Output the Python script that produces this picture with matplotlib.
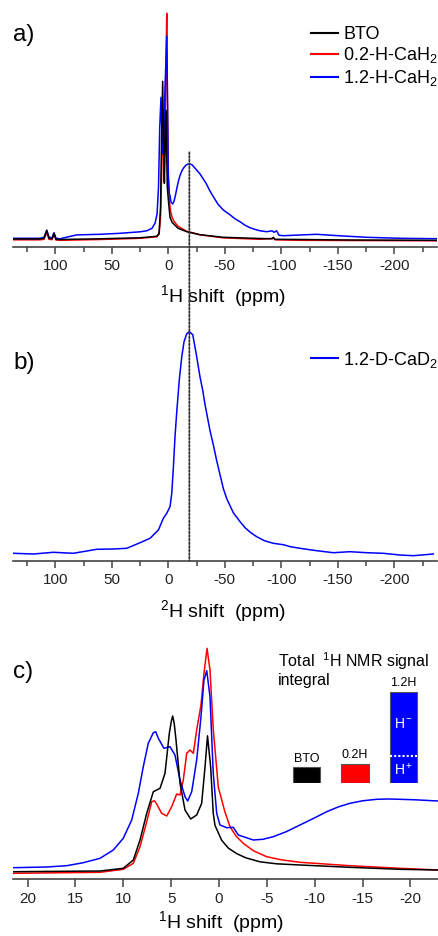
import matplotlib
matplotlib.use("Agg")
import matplotlib.pyplot as plt
from matplotlib.patches import ConnectionPatch
from matplotlib.ticker import MultipleLocator

plt.rcParams['font.family'] = ['Liberation Sans', 'DejaVu Sans']
plt.rcParams['mathtext.fontset'] = 'custom'
plt.rcParams['mathtext.rm'] = 'Liberation Sans'
plt.rcParams['mathtext.it'] = 'Liberation Sans:italic'
plt.rcParams['mathtext.bf'] = 'Liberation Sans:bold'
plt.rcParams['axes.unicode_minus'] = False

# ==============================
# Data (arbitrary intensity units)
# ==============================

# a) 1H MAS NMR, wide range
a_bto_ppm = [137.2, 113.5, 110, 107.6, 105.6, 102.9, 101.2, 99.4, 95.8, 60.4, 25, 10.3, 8.2, 6.9,
             6.0, 5.0, 4.1, 3.5, 2.9, 2.3, 1.6, 0.9, -0.2, -1.5, -3.3, -8.6, -16.3, -28, -48.4,
             -81, -91.8, -93, -94.4, -116.5, -160.8, -237.5]
a_bto_int = [8.3, 8.3, 9, 17, 9, 8.5, 14, 8, 7.8, 8.5, 9.5, 11, 14, 40,
             110, 166, 100, 64, 100, 137, 100, 60, 45, 30, 25, 19, 15.6, 12.6, 10,
             8.8, 8.5, 10, 8, 7.8, 7.3, 7]

a_02h_ppm = [137.2, 113.5, 110, 107.6, 105.6, 102.9, 101.2, 99.4, 95.8, 60.4, 25, 10.3, 8.2, 6.9,
             5.8, 4.6, 3.8, 3.0, 2.0, 1.4, 0.8, 0, -1, -2, -3.3, -5, -8.6, -16.3, -28, -48.4,
             -81, -93, -94.4, -116.5, -160.8, -237.5]
a_02h_int = [7.5, 7.5, 8, 15, 8, 7.7, 13, 7.3, 7, 7.8, 9, 10.5, 13, 30,
             80, 133, 67, 120, 190, 234, 150, 75, 45, 36, 30, 26, 21, 16, 12.5, 9.5,
             8, 9, 7.5, 7, 6.8, 6.5]

a_12h_ppm = [137.2, 113.5, 110, 107.6, 105.6, 102.9, 101.2, 99.4, 95.8, 90.5, 81, 60.4, 42.7, 25,
             19.1, 14.4, 11.8, 10, 8.7, 7.6, 6.5, 5.6, 5.1, 4.2, 2.9, 1.4, 0.7, 0, -0.9, -1.5,
             -2.4, -3.9, -5, -6.3, -7.7, -9, -10.4, -12, -13.9, -16, -18.3, -21, -24.5, -28,
             -30.5, -33.4, -36.5, -39.8, -44, -48.7, -54.6, -59, -63.5, -68, -72.3, -77, -81.2,
             -87.1, -91.8, -93.5, -95.8, -98, -101.8, -116.5, -131.3, -151.9, -175.6, -205,
             -237.5]
a_12h_int = [9, 9, 10, 17, 10, 9.5, 14.5, 9, 8.5, 10, 12.4, 13, 14, 15.5,
             16.5, 19, 24, 33, 60, 120, 150, 110, 94, 100, 160, 211, 140, 68, 53, 52,
             45, 43.4, 46, 52, 60, 66.5, 72, 76.5, 80, 82.5, 83.6, 82.5, 78, 73.4,
             69, 64, 57, 50.6, 43, 37.3, 32.5, 28.5, 25.5, 22, 19.6, 17.8, 16.5,
             15.6, 16.5, 15, 16.5, 12, 11.6, 12.3, 13, 11.5, 10, 9,
             8.6]

# b) 2H MAS NMR
b_12d_ppm = [137.2, 119.5, 101.8, 84.1, 63.4, 48.7, 36.8, 25, 16.2, 8.8, 4.4, 1.4, -1.5, -3.0,
             -4.4, -5.9, -7.4, -9.7, -11.9, -13.9, -16.3, -18.6, -21.6, -24.5, -28, -30.5,
             -32.5, -36.9, -39.8, -42.8, -48.7, -51.7, -54.6, -57.5, -63.5, -67.9, -73, -78.2,
             -85, -92.9, -101.8, -108, -116.5, -131.3, -146, -160.8, -175.6, -190.3, -205,
             -216.8, -234.5]
b_12d_int = [7.4, 6.7, 8.4, 7.4, 11.4, 11.7, 12.4, 18, 22.4, 30.7, 42.4, 47.4, 54, 67,
             92, 124, 148, 181, 204, 219, 227, 229, 226, 208, 184, 170,
             156, 130, 116, 100, 72, 62, 55, 48, 39, 33, 28, 24,
             20, 17.4, 16, 14, 12.4, 10, 8, 9, 8, 7.4, 5.7,
             5, 6.7]

# c) 1H MAS NMR, narrow range
c_bto_ppm = [21.49, 12.43, 10.0, 8.95, 8.25, 7.55, 6.86, 6.16, 5.64, 5.19, 4.98, 4.84, 4.68, 4.49,
             4.07, 3.55, 2.96, 2.33, 1.81, 1.46, 1.20, 0.87, 0.60, 0.42, -0.28, -1.0, -1.85, -2.8,
             -4.28, -6.0, -8.46, -13.68, -18.91, -22.88]
c_bto_int = [7.6, 8.3, 11, 19.3, 39.3, 66, 87.6, 91, 106, 146, 158, 163.3, 156, 139.3,
             96, 69.3, 60.3, 64.3, 76, 112.3, 143.5, 112.3, 66, 54, 39, 31, 25.7, 21.5,
             17.5, 15.5, 14.3, 12, 10, 9.3]

c_02h_ppm = [21.49, 12.43, 10.0, 8.95, 8.25, 7.55, 7.03, 6.75, 6.51, 5.99, 5.46, 4.94, 4.42, 4.07,
             3.73, 3.37, 3.03, 2.68, 2.33, 1.88, 1.57, 1.25, 0.94, 0.60, 0.07, -0.10, -0.6,
             -1.15, -1.8, -2.54, -3.6, -4.98, -6.5, -8.46, -13.68, -18.91, -22.88]
c_02h_int = [6, 7, 10, 16, 32.6, 57.6, 77.6, 78.5, 75.3, 66, 63.3, 72.6, 85.3, 84.3,
             99.3, 126, 129.3, 126, 149.3, 174.3, 206, 231, 209.3, 150, 92, 86, 68,
             52.6, 43, 36, 28.5, 22.6, 19.5, 17, 13.6, 11, 9.3]

c_12h_ppm = [21.49, 18, 15.91, 14.18, 12.43, 11.04, 10.0, 9.12, 8.43, 7.91, 7.39, 6.86, 6.6, 6.34,
             5.75, 5.12, 4.60, 4.07, 3.55, 3.27, 2.85, 2.33, 1.88, 1.57, 1.28, 0.94, 0.60, 0.24,
             -0.10, -0.80, -1.49, -2.02, -3.58, -4.6, -5.67, -7.0, -8.46, -10.0, -11.25, -12.5,
             -13.68, -15.0, -16.47, -17.7, -18.91, -20.5, -22.88]
c_12h_int = [11.6, 12.3, 13.6, 16.6, 21, 29.3, 41, 59.3, 86, 112.6, 136, 146.6, 147.5, 141,
             131, 132.6, 124.3, 99.3, 82.6, 78.3, 87.6, 119.3, 162.6, 199.3, 208.6, 182.6, 106, 66,
             54.3, 51.6, 52, 44.3, 39.3, 40, 42.6, 47.5, 54.3, 61.5, 67.6, 72.5,
             76, 78.5, 80, 80.3, 80, 79.5, 78.3]

# total 1H NMR signal integral (inset bars)
bar_labels = ["BTO", "0.2H", "1.2H"]
bar_integrals = [1.0, 1.2, 5.7]
bar_h_plus = 1.7   # H+ share of the 1.2H sample

hydride_shift = -18.6   # dotted guide line, ppm

# ==============================
# Figure layout (pixel based)
# ==============================

W, H = 438, 936
fig = plt.figure(figsize=(W / 100, H / 100), dpi=100)


def px_rect(x0, y0, x1, y1):
    return [x0 / W, 1 - y1 / H, (x1 - x0) / W, (y1 - y0) / H]


ax_a = fig.add_axes(px_rect(13.3, 0, 436.7, 247.3))
ax_b = fig.add_axes(px_rect(13.3, 300, 436.7, 560.7))
ax_c = fig.add_axes(px_rect(13.3, 620, 437.7, 879.3))

AX_COL = "#444444"


def style(ax, major, minor=None):
    for s in ["left", "right", "top"]:
        ax.spines[s].set_visible(False)
    ax.spines["bottom"].set_color(AX_COL)
    ax.spines["bottom"].set_linewidth(1.2)
    ax.set_yticks([])
    ax.xaxis.set_major_locator(MultipleLocator(major))
    if minor:
        ax.xaxis.set_minor_locator(MultipleLocator(minor))
    ax.tick_params(axis="x", which="major", length=5, width=1.1, color=AX_COL,
                   labelsize=11, pad=3.5, labelcolor="#222222")
    ax.tick_params(axis="x", which="minor", length=3.5, width=1.1, color=AX_COL)
    ax.patch.set_alpha(0)


LW = 1.1
LEG = dict(loc="upper left", frameon=False, fontsize=13, handlelength=1.48,
           handletextpad=0.3, labelspacing=0.14, borderpad=0, borderaxespad=0)

# ==============================
# a)
# ==============================

ax_a.plot(a_02h_ppm, a_02h_int, color="red", lw=LW)
ax_a.plot(a_12h_ppm, a_12h_int, color="blue", lw=LW)
ax_a.plot(a_bto_ppm, a_bto_int, color="black", lw=LW)
ax_a.set_xlim(137.2, -237.5)
ax_a.set_ylim(0, 247.3)
style(ax_a, 50, 25)
ax_a.set_xlabel("$^1$H shift  (ppm)", fontsize=14, va="top")
ax_a.xaxis.set_label_coords(0.495, -0.143)
h = [plt.Line2D([], [], color=c, lw=1.5) for c in ("black", "red", "blue")]
ax_a.legend(h, ["BTO", "0.2-H-CaH$_2$", "1.2-H-CaH$_2$"],
            bbox_to_anchor=(0.703, 0.895), **LEG)
ax_a.text(-0.0, 0.86, "a)", transform=ax_a.transAxes, fontsize=17.5, va="center", ha="left")

# ==============================
# b)
# ==============================

ax_b.plot(b_12d_ppm, b_12d_int, color="blue", lw=LW)
ax_b.set_xlim(137.2, -237.5)
ax_b.set_ylim(0, 260.7)
style(ax_b, 50, 25)
ax_b.set_xlabel("$^2$H shift  (ppm)", fontsize=14, va="top")
ax_b.xaxis.set_label_coords(0.495, -0.142)
ax_b.legend([plt.Line2D([], [], color="blue", lw=1.5)], ["1.2-D-CaD$_2$"],
            bbox_to_anchor=(0.703, 0.81), **LEG)
ax_b.text(-0.0, 0.76, "b)", transform=ax_b.transAxes, fontsize=17.5, va="center", ha="left")

# dotted guide line running from a) into b)
con = ConnectionPatch(xyA=(hydride_shift, 95), coordsA=ax_a.transData,
                      xyB=(hydride_shift, 0), coordsB=ax_b.transData,
                      linestyle=(0, (1, 1)), color="#333333", lw=1.3)
fig.add_artist(con)

# ==============================
# c)
# ==============================

ax_c.plot(c_02h_ppm, c_02h_int, color="red", lw=LW)
ax_c.plot(c_12h_ppm, c_12h_int, color="blue", lw=LW)
ax_c.plot(c_bto_ppm, c_bto_int, color="black", lw=LW)
ax_c.set_xlim(21.49, -22.85)
ax_c.set_ylim(0, 259.3)
style(ax_c, 5)
ax_c.tick_params(axis="x", which="major", length=6)
ax_c.set_xlabel("$^1$H shift  (ppm)", fontsize=14, va="top")
ax_c.xaxis.set_label_coords(0.49, -0.116)
ax_c.text(-0.0, 0.8, "c)", transform=ax_c.transAxes, fontsize=17.5, va="center", ha="left")

fig.text(278.3 / W, 1 - 661 / H, "Total  $^1$H NMR signal", fontsize=11.5, va="center")
fig.text(278.3 / W, 1 - 681 / H, "integral", fontsize=11.5, va="center")

# inset bar chart of signal integrals
ax_in = fig.add_axes(px_rect(282.25, 679.3, 427.75, 783.3))
xs = range(len(bar_labels))
ax_in.bar(xs, bar_integrals, width=0.557, color=["black", "red", "blue"],
          edgecolor="#555555", linewidth=0.8)
for x, lab, v in zip(xs, bar_labels, bar_integrals):
    ax_in.annotate(lab, (x, v), xytext=(0, 2), textcoords="offset points",
                   ha="center", va="bottom", fontsize=9)
ax_in.hlines(bar_h_plus, 2 - 0.27, 2 + 0.27, colors="white", linestyles=(0, (1, 1)), lw=1.5)
ax_in.text(2, (bar_h_plus + bar_integrals[2]) / 2, "H$^-$", color="white",
           ha="center", va="center", fontsize=10)
ax_in.text(2, bar_h_plus / 2, "H$^+$", color="white", ha="center", va="center", fontsize=10)
ax_in.set_xlim(-0.5, 2.5)
ax_in.set_ylim(0, 6.5)
ax_in.axis("off")

plt.savefig("out.png", dpi=100)
